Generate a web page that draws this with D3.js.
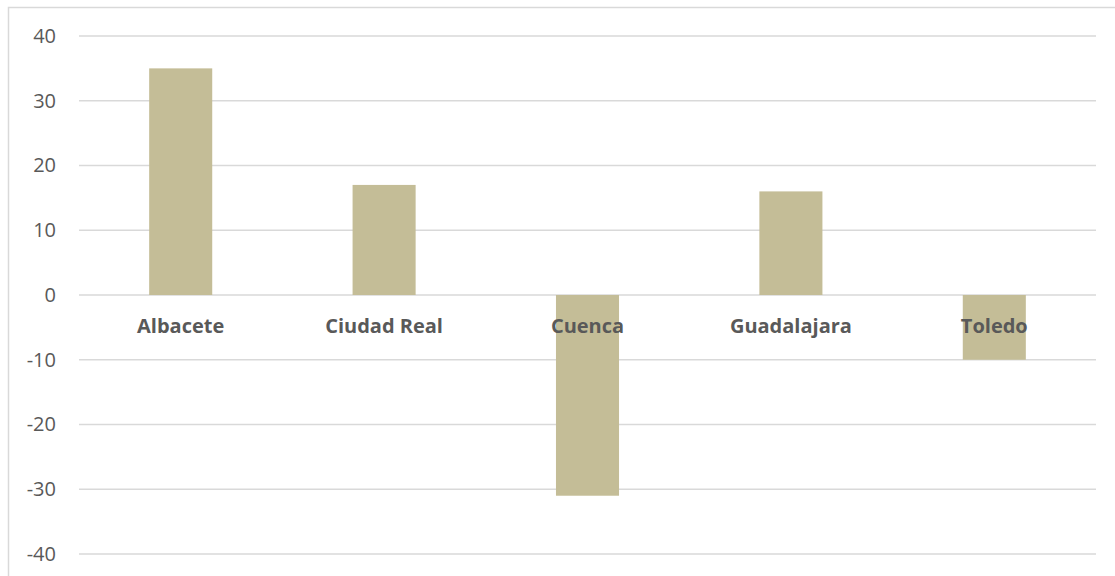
<!DOCTYPE html>
<html>
<head>
<meta charset="utf-8">
<script src="https://cdn.jsdelivr.net/npm/d3@7"></script>
<style>
  body { margin: 0; background: #fff; }
  text { font-family: "Open Sans", "Liberation Sans", sans-serif; fill: #595959; }
</style>
</head>
<body>
<div id="chart"></div>
<script>
// chart data
const provincias = ["Albacete", "Ciudad Real", "Cuenca", "Guadalajara", "Toledo"];
const valores = [35, 17, -31, 16, -10];
const yTicks = [-40, -30, -20, -10, 0, 10, 20, 30, 40];

const W = 1115, H = 576;
const margin = { top: 36, right: 19, bottom: 22, left: 79 },
  width = W - margin.left - margin.right,
  height = H - margin.top - margin.bottom;

const root = d3.select("#chart")
  .append("svg")
  .attr("width", W)
  .attr("height", H);

// outer border
root.append("rect")
  .attr("x", 8.5).attr("y", 7.5)
  .attr("width", W).attr("height", H)
  .attr("fill", "none")
  .attr("stroke", "#d9d9d9")
  .attr("stroke-width", 1.5);

const svg = root.append("g")
  .attr("transform", `translate(${margin.left},${margin.top})`);

const x = d3.scaleBand()
  .domain(provincias)
  .range([0, width])
  .paddingInner(0.69)
  .paddingOuter(0.345);

const y = d3.scaleLinear().domain([-40, 40]).range([height, 0]);

// gridlines
svg.append("g")
  .selectAll("line")
  .data(yTicks)
  .join("line")
  .attr("x1", 0).attr("x2", width)
  .attr("y1", d => y(d)).attr("y2", d => y(d))
  .attr("stroke", "#d9d9d9")
  .attr("stroke-width", 1.5);

// y axis labels (plain hyphen for negatives)
const yAxis = svg.append("g")
  .call(d3.axisLeft(y).tickValues(yTicks).tickFormat(d => String(d)).tickSize(0).tickPadding(23));
yAxis.select(".domain").remove();
yAxis.selectAll("text")
  .style("font-size", "20px")
  .attr("fill", "#595959");

// bars
svg.selectAll("rect.bar")
  .data(valores)
  .join("rect")
  .attr("class", "bar")
  .attr("x", (d, i) => x(provincias[i]))
  .attr("y", d => y(Math.max(0, d)))
  .attr("width", x.bandwidth())
  .attr("height", d => Math.abs(y(d) - y(0)))
  .attr("fill", "#c4bd97");

// category labels below zero line
svg.selectAll("text.cat")
  .data(provincias)
  .join("text")
  .attr("class", "cat")
  .attr("x", d => x(d) + x.bandwidth() / 2)
  .attr("y", y(0) + 38)
  .attr("text-anchor", "middle")
  .style("font-size", "20px")
  .style("font-weight", "bold")
  .text(d => d);
</script>
</body>
</html>
